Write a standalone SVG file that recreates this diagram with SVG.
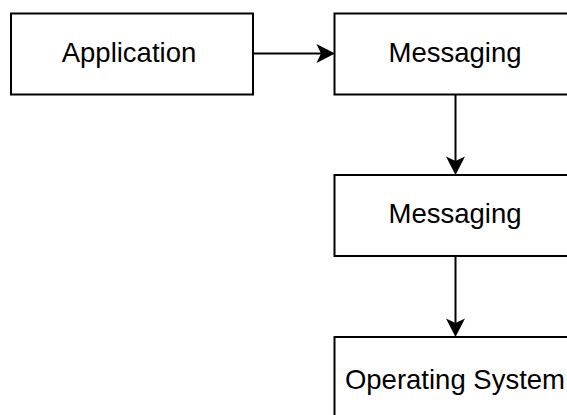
<svg xmlns="http://www.w3.org/2000/svg" width="567" height="415" viewBox="0 0 567 415">
  <style>
    .box { fill: #ffffff; stroke: #000000; stroke-width: 2; }
    .label { font-family: "Liberation Sans", Arial, sans-serif; font-size: 27.5px; fill: #000000; text-anchor: middle; }
    .edge { fill: none; stroke: #000000; stroke-width: 2; }
  </style>
  <defs>
    <marker id="arrow" viewBox="-5 -10 20 20" refX="0" refY="0" markerWidth="20" markerHeight="20" markerUnits="userSpaceOnUse" orient="auto">
      <path d="M14,0 L-4.5,-9.5 L0,0 L-4.5,9.5 Z" fill="#000000" stroke="none"/>
    </marker>
  </defs>
  <rect width="567" height="415" fill="#ffffff"/>
  <g id="connectors">
    <line class="edge" x1="253" y1="53.5" x2="321" y2="53.5" marker-end="url(#arrow)"/>
    <line class="edge" x1="455.5" y1="94.5" x2="455.5" y2="161" marker-end="url(#arrow)"/>
    <line class="edge" x1="455.5" y1="256" x2="455.5" y2="323" marker-end="url(#arrow)"/>
  </g>
  <g id="application">
    <rect class="box" x="11" y="13.5" width="242" height="81"/>
    <text class="label" x="129" y="61.7">Application</text>
  </g>
  <g id="messaging1">
    <rect class="box" x="334.5" y="13.5" width="242" height="81"/>
    <text class="label" x="455" y="61.7">Messaging</text>
  </g>
  <g id="messaging2">
    <rect class="box" x="334.5" y="175" width="242" height="81"/>
    <text class="label" x="455" y="223.3">Messaging</text>
  </g>
  <g id="operating-system">
    <rect class="box" x="334.5" y="337" width="242" height="81"/>
    <text class="label" x="455" y="388.5">Operating System</text>
  </g>
</svg>
